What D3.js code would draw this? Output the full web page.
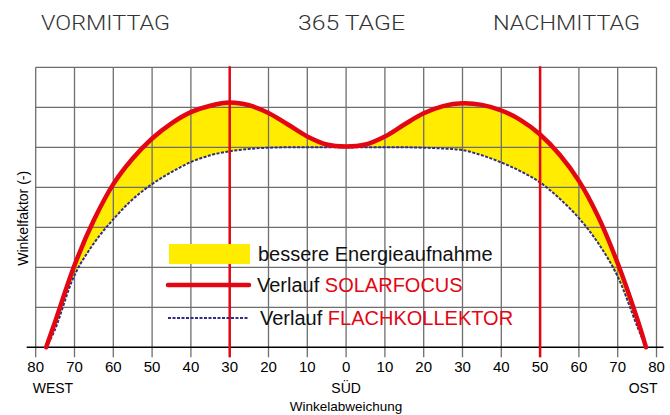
<!DOCTYPE html>
<html>
<head>
<meta charset="utf-8">
<script src="https://cdn.jsdelivr.net/npm/d3@7"></script>
<style>
    body { margin: 0; background: #fff; }
    text { font-family: "Liberation Sans", Arial, sans-serif; }
    .title { font-family: Roboto, "Liberation Sans", sans-serif; font-weight: 300; font-size: 21px; fill: #333; }
</style>
</head>
<body>
<div id="chart"></div>
<script>
// angle from south: negative = west (morning), positive = east (afternoon)
const angles = [-77.3, -75, -70, -65, -60, -55, -50, -45, -40, -35, -30, -25, -20, -15, -10, -5, 0,
    5, 10, 15, 20, 25, 30, 35, 40, 45, 50, 55, 60, 65, 70, 75, 77.3];
const solarfocus = [0, 0.64, 2.05, 3.18, 4.08, 4.72, 5.22, 5.6, 5.88, 6.04, 6.12, 6.05, 5.86, 5.57, 5.27, 5.07, 5.02,
    5.07, 5.27, 5.57, 5.85, 6.03, 6.1, 6.06, 5.92, 5.68, 5.32, 4.82, 4.16, 3.26, 2.1, 0.72, 0];
const flachkollektor = [0, 0.45, 1.8, 2.6, 3.2, 3.7, 4.08, 4.38, 4.63, 4.8, 4.9, 4.96, 4.99, 5.0, 5.0, 5.0, 5.0,
    5.0, 5.0, 5.0, 4.99, 4.97, 4.93, 4.8, 4.62, 4.4, 4.12, 3.72, 3.23, 2.6, 1.77, 0.53, 0];
const xTicks = d3.range(-80, 81, 10);
const yGrid = [1, 2, 3, 4, 5, 6, 7];
const markers = [-30, 50];
const titles = ['VORMITTAG', '365 TAGE', 'NACHMITTAG'];
const directions = ['WEST', 'SÜD', 'OST'];
const legendItems = [
    { type: 'fill', text: 'bessere Energieaufnahme', red: '' },
    { type: 'red', text: 'Verlauf ', red: 'SOLARFOCUS' },
    { type: 'blue', text: 'Verlauf ', red: 'FLACHKOLLEKTOR' }
];

const RED = '#e30613';
const YELLOW = '#ffec00';
const BLUE = '#2e2d8c';

const margin = { top: 67.3, left: 35.7 };
const width = 620.8;
const height = 280;

const svg = d3.select('#chart').append('svg')
    .attr('width', 670)
    .attr('height', 415);

const g = svg.append('g')
    .attr('transform', `translate(${margin.left},${margin.top})`);

const x = d3.scaleLinear().domain([-80, 80]).range([0, width]);
const y = d3.scaleLinear().domain([0, 7]).range([height, 0]);

const pts = angles.map((a, i) => ({ a: a, r: solarfocus[i], b: flachkollektor[i] }));
const curve = d3.curveCatmullRom.alpha(0.5);

// yellow band between the two curves
g.append('path')
    .datum(pts)
    .attr('fill', YELLOW)
    .attr('d', d3.area()
        .x(d => x(d.a))
        .y0(d => y(d.b))
        .y1(d => y(d.r))
        .curve(curve));

// grid
g.selectAll('.hgrid')
    .data(yGrid)
    .enter().append('line')
    .attr('class', 'hgrid')
    .attr('x1', 0).attr('x2', width)
    .attr('y1', d => y(d)).attr('y2', d => y(d))
    .attr('stroke', '#6e6e6e')
    .attr('stroke-width', 1.3);

g.selectAll('.vgrid')
    .data(xTicks)
    .enter().append('line')
    .attr('class', 'vgrid')
    .attr('x1', d => x(d)).attr('x2', d => x(d))
    .attr('y1', 0).attr('y2', height + 10)
    .attr('stroke', '#6e6e6e')
    .attr('stroke-width', 1.3);

// x axis line
g.append('line')
    .attr('x1', -9).attr('x2', width + 7)
    .attr('y1', height).attr('y2', height)
    .attr('stroke', '#000')
    .attr('stroke-width', 1.6);

// tick labels
g.selectAll('.tick-label')
    .data(xTicks)
    .enter().append('text')
    .attr('class', 'tick-label')
    .attr('x', d => x(d))
    .attr('y', height + 25)
    .attr('text-anchor', 'middle')
    .style('font-size', '15px')
    .text(d => Math.abs(d));

// WEST / SÜD / OST
g.selectAll('.dir')
    .data(directions)
    .enter().append('text')
    .attr('class', 'dir')
    .attr('x', (d, i) => [x(-80) - 3, x(0), x(80) + 1][i])
    .attr('y', height + 46)
    .attr('text-anchor', (d, i) => ['start', 'middle', 'end'][i])
    .style('font-size', '14px')
    .text(d => d);

g.append('text')
    .attr('x', x(0))
    .attr('y', height + 64)
    .attr('text-anchor', 'middle')
    .style('font-size', '13.5px')
    .text('Winkelabweichung');

g.append('text')
    .attr('transform', 'rotate(-90)')
    .attr('x', -(y(3.5) + 11))
    .attr('y', -8)
    .attr('text-anchor', 'middle')
    .style('font-size', '14px')
    .text('Winkelfaktor (-)');

// titles (condensed to the widths of the original lettering)
svg.selectAll('.title')
    .data(titles)
    .enter().append('text')
    .attr('class', 'title')
    .attr('x', (d, i) => [41, 298, 493][i])
    .attr('y', 30)
    .attr('textLength', (d, i) => [129, 107, 147][i])
    .attr('lengthAdjust', 'spacingAndGlyphs')
    .text(d => d);

// curves
const line = key => d3.line()
    .x(d => x(d.a))
    .y(d => y(d[key]))
    .curve(curve);

g.append('path')
    .datum(pts)
    .attr('fill', 'none')
    .attr('stroke', BLUE)
    .attr('stroke-width', 2)
    .attr('stroke-dasharray', '3,1.5')
    .attr('d', line('b'));

g.append('path')
    .datum(pts)
    .attr('fill', 'none')
    .attr('stroke', RED)
    .attr('stroke-width', 4.5)
    .attr('stroke-linecap', 'round')
    .attr('d', line('r'));

// legend
const legend = svg.append('g');
const rowY = [254, 285, 318];

legendItems.forEach((item, i) => {
    if (item.type === 'fill') {
        legend.append('rect')
            .attr('x', 169).attr('y', rowY[i] - 10)
            .attr('width', 81).attr('height', 20)
            .attr('fill', YELLOW);
    } else {
        legend.append('line')
            .attr('x1', 168).attr('x2', 249)
            .attr('y1', rowY[i]).attr('y2', rowY[i])
            .attr('stroke', item.type === 'red' ? RED : BLUE)
            .attr('stroke-width', item.type === 'red' ? 4.5 : 2)
            .attr('stroke-linecap', item.type === 'red' ? 'round' : 'butt')
            .attr('stroke-dasharray', item.type === 'red' ? null : '3,1.5');
    }
    const t = legend.append('text')
        .attr('x', [258, 257, 260][i])
        .attr('y', rowY[i] + 7)
        .style('font-size', '20px')
        .attr('fill', '#111');
    t.append('tspan').text(item.text);
    if (item.red) t.append('tspan').attr('fill', RED).text(item.red);
});

// vertical marker lines
g.selectAll('.marker')
    .data(markers)
    .enter().append('line')
    .attr('class', 'marker')
    .attr('x1', d => x(d)).attr('x2', d => x(d))
    .attr('y1', -1).attr('y2', height + 10)
    .attr('stroke', RED)
    .attr('stroke-width', 2.5);
</script>
</body>
</html>
